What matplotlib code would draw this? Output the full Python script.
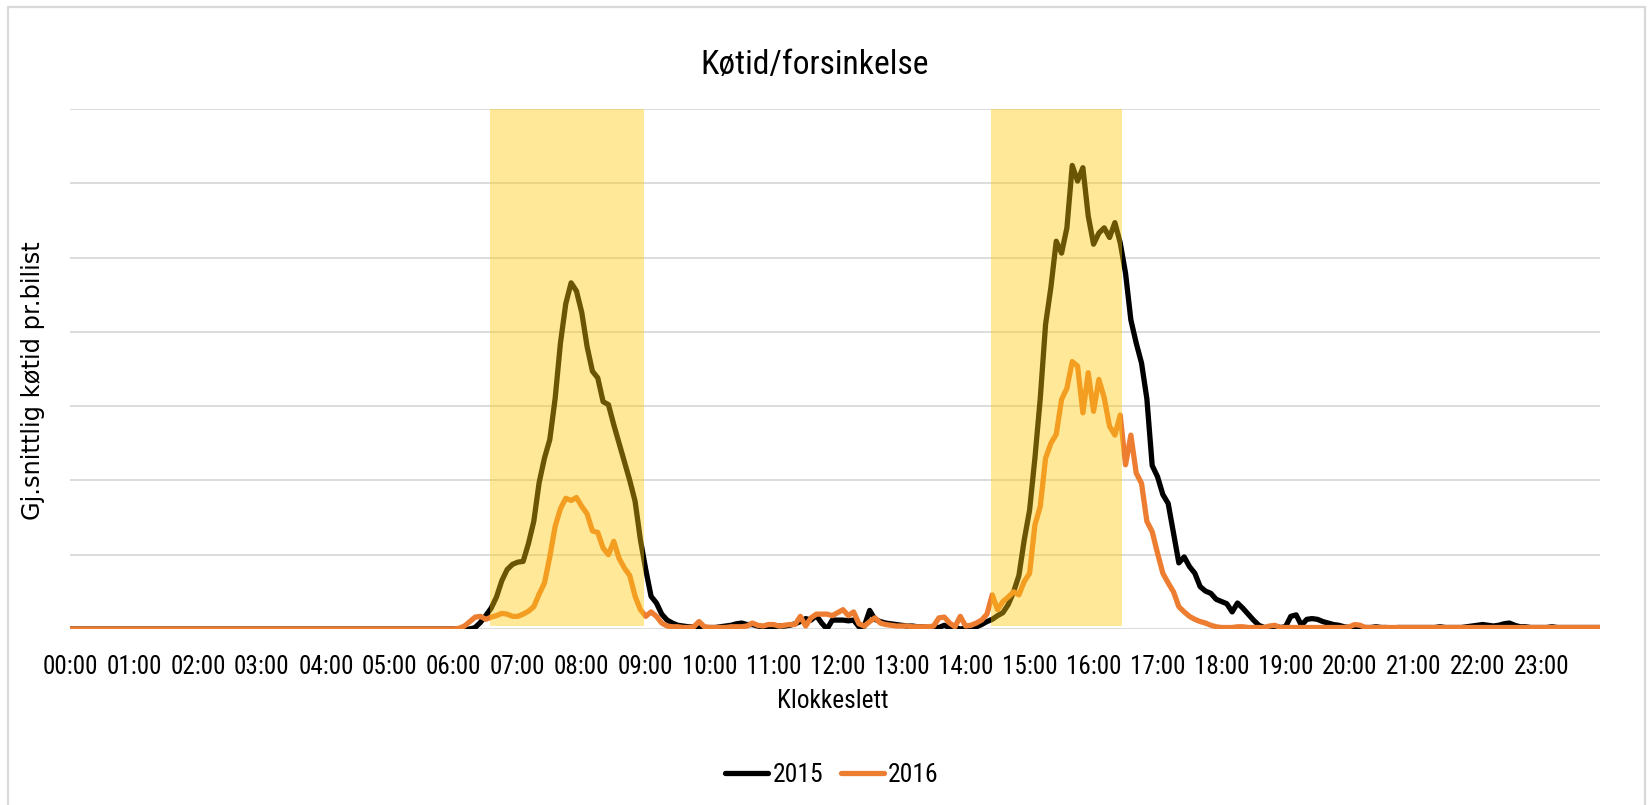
import os
import math
import matplotlib
matplotlib.use("Agg")
import matplotlib.pyplot as plt
from matplotlib import font_manager as fm
from matplotlib.font_manager import FontProperties
from matplotlib.textpath import TextPath
from matplotlib.ft2font import FT2Font
from matplotlib.patches import Rectangle
from matplotlib.lines import Line2D

# ---------------- data (5-minute intervals, 00:00 .. 23:55) ----------------
tick_labels = ["00:00", "01:00", "02:00", "03:00", "04:00", "05:00", "06:00", "07:00",
               "08:00", "09:00", "10:00", "11:00", "12:00", "13:00", "14:00", "15:00",
               "16:00", "17:00", "18:00", "19:00", "20:00", "21:00", "22:00", "23:00"]

series_names = ["2015", "2016"]

queue_2015 = [
    0, 0, 0, 0, 0, 0, 0, 0, 0, 0, 0, 0,                                   # 00
    0, 0, 0, 0, 0, 0, 0, 0, 0, 0, 0, 0,                                   # 01
    0, 0, 0, 0, 0, 0, 0, 0, 0, 0, 0, 0,                                   # 02
    0, 0, 0, 0, 0, 0, 0, 0, 0, 0, 0, 0,                                   # 03
    0, 0, 0, 0, 0, 0, 0, 0, 0, 0, 0, 0,                                   # 04
    0, 0, 0, 0, 0, 0, 0, 0, 0, 0, 0, 0,                                   # 05
    0, 0, 0, 0, 0.02, 0.09, 0.18, 0.28, 0.43, 0.65, 0.80, 0.87,           # 06
    0.90, 0.91, 1.15, 1.45, 1.97, 2.30, 2.55, 3.10, 3.85, 4.38, 4.66, 4.55,  # 07
    4.26, 3.80, 3.47, 3.38, 3.06, 3.02, 2.75, 2.50, 2.25, 2.00, 1.72, 1.20,  # 08
    0.80, 0.44, 0.35, 0.20, 0.12, 0.08, 0.05, 0.04, 0.03, 0.03, 0.03, 0.02,  # 09
    0.02, 0.02, 0.03, 0.04, 0.05, 0.07, 0.08, 0.06, 0.06, 0.04, 0.03, 0.03,  # 10
    0.03, 0.04, 0.04, 0.05, 0.07, 0.10, 0.14, 0.12, 0.18, 0.08, 0.00, 0.12,  # 11
    0.12, 0.12, 0.11, 0.12, 0.03, 0.04, 0.25, 0.13, 0.10, 0.08, 0.07, 0.06,  # 12
    0.05, 0.04, 0.04, 0.03, 0.03, 0.02, 0.02, 0.02, 0.05, 0.02, 0.02, 0.00,  # 13
    0.01, 0.02, 0.03, 0.06, 0.10, 0.13, 0.18, 0.22, 0.33, 0.50, 0.72, 1.20,  # 14
    1.60, 2.30, 3.10, 4.10, 4.60, 5.22, 5.06, 5.40, 6.24, 6.03, 6.21, 5.56,  # 15
    5.18, 5.33, 5.40, 5.27, 5.47, 5.20, 4.79, 4.16, 3.85, 3.58, 3.10, 2.20,  # 16
    2.05, 1.81, 1.69, 1.29, 0.89, 0.97, 0.84, 0.75, 0.57, 0.51, 0.48, 0.40,  # 17
    0.37, 0.34, 0.23, 0.35, 0.28, 0.20, 0.12, 0.05, 0.02, 0.02, 0.04, 0.02,  # 18
    0.03, 0.17, 0.19, 0.05, 0.13, 0.14, 0.13, 0.10, 0.08, 0.06, 0.05, 0.03,  # 19
    0.02, 0.00, 0.01, 0.02, 0.02, 0.03, 0.02, 0.02, 0.01, 0.02, 0.02, 0.02,  # 20
    0.02, 0.02, 0.02, 0.02, 0.02, 0.03, 0.02, 0.02, 0.02, 0.02, 0.03, 0.04,  # 21
    0.05, 0.06, 0.05, 0.04, 0.05, 0.07, 0.08, 0.05, 0.03, 0.03, 0.02, 0.02,  # 22
    0.02, 0.02, 0.03, 0.02, 0.02, 0.02, 0.02, 0.02, 0.02, 0.02, 0.02, 0.02,  # 23
]

queue_2016 = [
    0, 0, 0, 0, 0, 0, 0, 0, 0, 0, 0, 0,                                   # 00
    0, 0, 0, 0, 0, 0, 0, 0, 0, 0, 0, 0,                                   # 01
    0, 0, 0, 0, 0, 0, 0, 0, 0, 0, 0, 0,                                   # 02
    0, 0, 0, 0, 0, 0, 0, 0, 0, 0, 0, 0,                                   # 03
    0, 0, 0, 0, 0, 0, 0, 0, 0, 0, 0, 0,                                   # 04
    0, 0, 0, 0, 0, 0, 0, 0, 0, 0, 0, 0,                                   # 05
    0, 0.01, 0.04, 0.10, 0.16, 0.17, 0.13, 0.16, 0.18, 0.21, 0.20, 0.17,  # 06
    0.17, 0.20, 0.24, 0.30, 0.47, 0.62, 0.97, 1.38, 1.62, 1.76, 1.73, 1.77,  # 07
    1.65, 1.55, 1.32, 1.30, 1.09, 1.00, 1.18, 0.95, 0.82, 0.72, 0.44, 0.26,  # 08
    0.17, 0.23, 0.17, 0.08, 0.04, 0.03, 0.03, 0.02, 0.02, 0.03, 0.10, 0.03,  # 09
    0.02, 0.02, 0.02, 0.02, 0.03, 0.03, 0.03, 0.04, 0.08, 0.05, 0.04, 0.06,  # 10
    0.06, 0.04, 0.05, 0.06, 0.06, 0.17, 0.04, 0.15, 0.20, 0.20, 0.20, 0.18,  # 11
    0.22, 0.26, 0.18, 0.23, 0.07, 0.04, 0.10, 0.15, 0.08, 0.06, 0.05, 0.04,  # 12
    0.04, 0.04, 0.03, 0.03, 0.03, 0.03, 0.04, 0.15, 0.16, 0.08, 0.03, 0.17,  # 13
    0.04, 0.05, 0.08, 0.12, 0.20, 0.46, 0.26, 0.37, 0.43, 0.50, 0.46, 0.64,  # 14
    0.75, 1.40, 1.65, 2.30, 2.50, 2.62, 3.09, 3.24, 3.60, 3.54, 2.91, 3.45,  # 15
    2.93, 3.36, 3.11, 2.73, 2.61, 2.88, 2.21, 2.61, 2.10, 1.96, 1.45, 1.31,  # 16
    1.02, 0.75, 0.62, 0.50, 0.30, 0.23, 0.17, 0.13, 0.10, 0.08, 0.05, 0.03,  # 17
    0.02, 0.02, 0.02, 0.03, 0.03, 0.02, 0.02, 0.02, 0.02, 0.04, 0.05, 0.02,  # 18
    0.02, 0.02, 0.02, 0.02, 0.02, 0.02, 0.02, 0.02, 0.02, 0.02, 0.02, 0.02,  # 19
    0.03, 0.06, 0.05, 0.02, 0.02, 0.02, 0.02, 0.02, 0.02, 0.02, 0.02, 0.02,  # 20
    0.02, 0.02, 0.02, 0.02, 0.02, 0.02, 0.02, 0.02, 0.02, 0.02, 0.02, 0.02,  # 21
    0.02, 0.02, 0.02, 0.02, 0.02, 0.02, 0.02, 0.02, 0.02, 0.02, 0.02, 0.02,  # 22
    0.02, 0.02, 0.02, 0.02, 0.02, 0.02, 0.02, 0.02, 0.02, 0.02, 0.02, 0.02,  # 23
]

# rush-hour periods (minutes after midnight)
peak_band_start = [394, 864]
peak_band_end = [538, 987]

title_text = "Køtid/forsinkelse"
ylabel_text = "Gj.snittlig køtid pr.bilist"
xlabel_text = "Klokkeslett"

# ---------------- font selection (reference text is tall and narrow) ----------------
ALLOWED = ("DejaVu Sans", "Liberation Sans", "Noto Sans", "Roboto", "Open Sans", "Lato", "Inter")


def _is_regular(f):
    w = f.weight
    if isinstance(w, str):
        w = {"normal": 400, "regular": 400, "book": 400}.get(w.lower(), 700)
    return w == 400 and f.style == "normal"


def _candidates():
    out, seen = [], set()
    for f in fm.fontManager.ttflist:
        base = os.path.basename(f.fname).lower()
        if f.fname in seen or not _is_regular(f):
            continue
        if any(k in base for k in ("cjk", "mono", "serif", "math", "emoji", "italic", "oblique")):
            continue
        ok = f.name in ALLOWED or any(
            f.name.startswith(a) and ("Condensed" in f.name or "Narrow" in f.name) for a in ALLOWED)
        if not ok:
            continue
        try:
            if ord("ø") not in FT2Font(f.fname).get_charmap():
                continue
        except Exception:
            continue
        seen.add(f.fname)
        out.append(f.fname)
    return out


def _ink(fname, s, size=100.0):
    e = TextPath((0, 0), s, size=size, prop=FontProperties(fname=fname)).get_extents()
    return e.width, e.height


def _pick(sample, w_px, h_px, cands):
    target = w_px / h_px
    best, score = None, 1e9
    for fn in cands:
        w, h = _ink(fn, sample)
        if h <= 0:
            continue
        sc = abs(math.log((w / h) / target))
        if sc < score:
            best, score = fn, sc
    return best


def _fit_size(fname, s, w_px, h_px, wexp=0.5, max_w_px=None):
    w, h = _ink(fname, s, 100.0)       # in points at size 100 (1 pt = 100/72 px)
    w *= 100 / 72.0
    h *= 100 / 72.0
    sw = 100.0 * w_px / w
    sh = 100.0 * h_px / h
    size = sw ** wexp * sh ** (1 - wexp)
    if max_w_px is not None:
        size = min(size, 100.0 * max_w_px / w)
    return size


cands = _candidates()
if cands:
    narrow_file = _pick("00:00", 46, 21, cands)
    wide_file = _pick(ylabel_text, 283, 19, cands)
    FP = lambda size, fn=narrow_file: FontProperties(fname=fn, size=size)
    tick_size = _fit_size(narrow_file, "00:00", 46, 21, max_w_px=56)
    title_size = _fit_size(narrow_file, title_text, 219, 31, wexp=0.8)
    xlab_size = _fit_size(narrow_file, xlabel_text, 100, 21)
    leg_size = _fit_size(narrow_file, "2015", 43, 21)
    ylab_size = _fit_size(wide_file, ylabel_text, 283, 19, wexp=0.9)
    tick_fp = FP(tick_size)
    title_fp = FP(title_size)
    xlab_fp = FP(xlab_size)
    leg_fp = FP(leg_size)
    ylab_fp = FontProperties(fname=wide_file, size=ylab_size)
else:
    tick_fp = FontProperties(family="DejaVu Sans", size=14)
    title_fp = FontProperties(family="DejaVu Sans", size=22)
    xlab_fp = FontProperties(family="DejaVu Sans", size=15)
    leg_fp = FontProperties(family="DejaVu Sans", size=14)
    ylab_fp = FontProperties(family="DejaVu Sans", size=16)

# ---------------- figure ----------------
W, H = 1648, 805
fig = plt.figure(figsize=(W / 100, H / 100), dpi=100)
fig.patch.set_facecolor("white")

ax = fig.add_axes([70 / W, (H - 629) / H, 1530 / W, 520 / H])

steps = list(range(len(queue_2015)))
step_minutes = 5
LW = 3.8

ax.plot(steps, queue_2015, color="#000000", lw=LW, solid_joinstyle="round",
        solid_capstyle="round", zorder=3)
ax.plot(steps, queue_2016, color="#ED7D31", lw=LW, solid_joinstyle="round",
        solid_capstyle="round", zorder=4)

for s, e in zip(peak_band_start, peak_band_end):
    ax.axvspan(s / step_minutes, e / step_minutes, ymin=0.005, ymax=1.0,
               facecolor=(1.0, 0.80, 0.05), alpha=0.42, lw=0, zorder=5)

ax.set_xlim(0, len(steps) - 1)
ax.set_ylim(0, 7)
ax.set_yticks(range(8))
ax.yaxis.grid(True, color="#D9D9D9", lw=1.3)
ax.set_axisbelow(True)
ax.tick_params(axis="y", length=0, labelleft=False)

ax.set_xticks(range(0, len(steps), 12))
ax.set_xticklabels(tick_labels, fontproperties=tick_fp)
ax.tick_params(axis="x", length=0, pad=19, colors="black")

for sp in ax.spines.values():
    sp.set_visible(False)

# texts
fig.text(815 / W, 1 - 65 / H, title_text, ha="center", va="center", fontproperties=title_fp)
fig.text(33 / W, 1 - 381 / H, ylabel_text, rotation=90, ha="center", va="center",
         fontproperties=ylab_fp)
fig.text(833 / W, 1 - 701 / H, xlabel_text, ha="center", va="center", fontproperties=xlab_fp)

leg_px = leg_fp.get_size_in_points() * 100 / 72.0
handles = [Line2D([], [], color="#000000", lw=LW, solid_capstyle="round"),
           Line2D([], [], color="#ED7D31", lw=LW, solid_capstyle="round")]
fig.legend(handles, series_names, loc="center",
           bbox_to_anchor=(832 / W, 1 - 775 / H), ncol=2, frameon=False,
           prop=leg_fp, handlelength=43 / leg_px,
           handletextpad=4 / leg_px, columnspacing=18 / leg_px)

# chart-area border
fig.patches.append(Rectangle((8 / W, -0.05), (1645 - 8) / W, 1.05 - 7 / H,
                             transform=fig.transFigure, fill=False,
                             edgecolor="#D9D9D9", lw=1.6))

fig.savefig("out.png", dpi=100)
